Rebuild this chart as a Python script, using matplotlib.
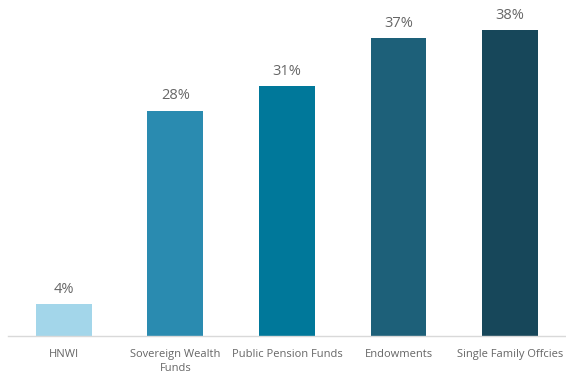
import matplotlib.pyplot as plt

categories = ['HNWI', 'Sovereign Wealth\nFunds', 'Public Pension Funds', 'Endowments', 'Single Family Offcies']
values = [4, 28, 31, 37, 38]
colors = ['#A3D6EA', '#2A8BB0', '#00789A', '#1D6079', '#17475A']

plt.rcParams['font.family'] = ['Open Sans', 'DejaVu Sans']

fig = plt.figure(figsize=(5.66, 3.78), dpi=100)
ax = fig.add_axes([0.014, 0.111, 0.986, 0.852])

x = range(len(categories))
bars = ax.bar(x, values, width=0.5, color=colors)
for b, val in zip(bars, values):
    ax.text(b.get_x() + b.get_width() / 2, val + 0.9, f'{val}%',
            ha='center', va='bottom', fontsize=10.5, color='#666666')

ax.set_xlim(-0.5, 4.5)
ax.set_ylim(0, 40)
ax.set_xticks(list(x))
ax.set_xticklabels(categories, fontsize=8, color='#666666', linespacing=1.4)
ax.tick_params(axis='x', length=0, pad=9)
ax.set_yticks([])
for s in ['top', 'right', 'left']:
    ax.spines[s].set_visible(False)
ax.spines['bottom'].set_color('#D9D9D9')
ax.spines['bottom'].set_linewidth(1)

fig.savefig('out.png', dpi=100)
